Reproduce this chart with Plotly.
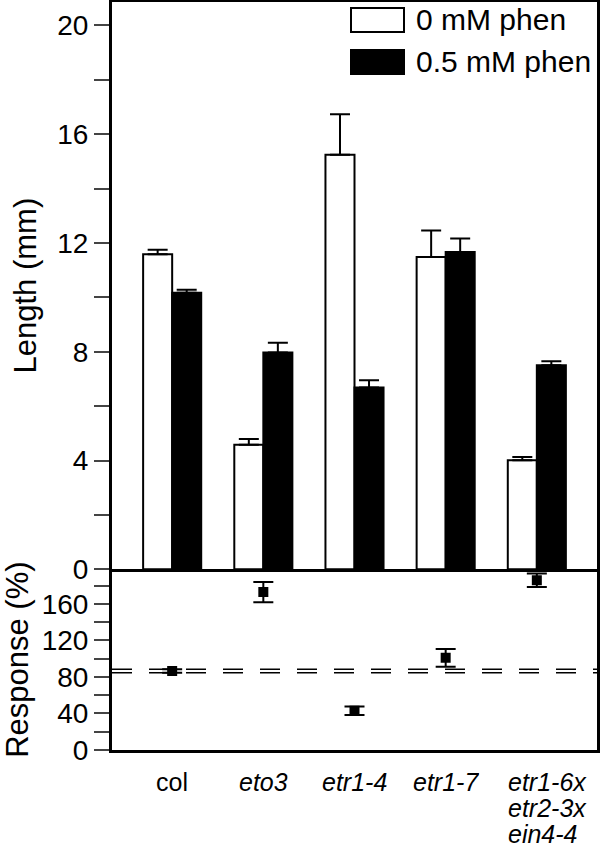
import plotly.graph_objects as go

# Hypocotyl length (mm) with/without phenanthroline, plus response (%)
genotypes = ["col", "eto3", "etr1-4", "etr1-7", "etr1-6x etr2-3x ein4-4"]
label_lines = [["col"], ["eto3"], ["etr1-4"], ["etr1-7"], ["etr1-6x", "etr2-3x", "ein4-4"]]
label_italic = [False, True, True, True, True]

len_0mM = [11.58, 4.58, 15.24, 11.48, 4.01]
len_0mM_se = [0.17, 0.21, 1.49, 0.98, 0.12]
len_05mM = [10.17, 7.97, 6.68, 11.67, 7.50]
len_05mM_se = [0.11, 0.36, 0.27, 0.49, 0.15]

response = [86.6, 173, 43, 101, 186]
response_se = [1.9, 11.2, 4.6, 9.7, 7.5]

len_ticks = [0, 4, 8, 12, 16, 20]
resp_ticks = [0, 40, 80, 120, 160]

FONT = "Liberation Sans, Arial, sans-serif"
L, R, T, B = 112, 3, 2, 96
W, H = 600, 846
PW, PH = W - L - R, H - T - B
split = 0.2416

def px_x(px):
    return (px - L) / PW

def px_y(py):
    return (H - B - py) / PH

x = list(range(len(genotypes)))

fig = go.Figure()
fig.add_trace(go.Bar(
    x=x, y=len_0mM, name="0 mM phen",
    marker=dict(color="white", line=dict(color="black", width=2)),
    error_y=dict(type="data", symmetric=False, array=len_0mM_se,
                 arrayminus=[0] * len(x), thickness=2, width=10, color="black"),
    xaxis="x", yaxis="y",
))
fig.add_trace(go.Bar(
    x=x, y=len_05mM, name="0.5 mM phen",
    marker=dict(color="black", line=dict(color="black", width=2)),
    error_y=dict(type="data", symmetric=False, array=len_05mM_se,
                 arrayminus=[0] * len(x), thickness=2, width=10, color="black"),
    xaxis="x", yaxis="y",
))
fig.add_trace(go.Scatter(
    x=x, y=response, mode="markers",
    marker=dict(symbol="square", size=10, color="black"),
    error_y=dict(type="data", array=response_se, thickness=2, width=10, color="black"),
    xaxis="x2", yaxis="y2",
))

# col response +/- SE as dashed reference lines
for yv in (response[0] - response_se[0], response[0] + response_se[0]):
    fig.add_shape(type="line", xref="x2 domain", x0=0, x1=1, yref="y2", y0=yv, y1=yv,
                  line=dict(color="black", width=1.5, dash="20px,17px"), layer="below")

# hand-drawn legend (large swatches)
legend_rows = [("0 mM phen", "white", 8, 32), ("0.5 mM phen", "black", 50, 74)]
for text, col, y0, y1 in legend_rows:
    fig.add_shape(type="rect", xref="paper", yref="paper",
                  x0=px_x(351), x1=px_x(404), y0=px_y(y1), y1=px_y(y0),
                  fillcolor=col, line=dict(color="black", width=2))
    fig.add_annotation(xref="paper", yref="paper", x=px_x(414), y=px_y((y0 + y1) / 2),
                       text=text, showarrow=False, xanchor="left", yanchor="middle",
                       font=dict(size=30, color="black", family=FONT))

# x category labels (one annotation per line so the spacing stays tight)
for i, lines in enumerate(label_lines):
    multi = len(lines) > 1
    for j, line in enumerate(lines):
        t = f"<i>{line}</i>" if label_italic[i] else line
        fig.add_annotation(xref="x2", yref="paper", x=i, y=0, text=t, showarrow=False,
                           xanchor="left" if multi else "center", yanchor="top",
                           height=25, borderpad=0,
                           xshift=-30 if multi else 0, yshift=-18 - 26 * j,
                           font=dict(size=25, color="black", family=FONT))

axis_common = dict(showline=True, linecolor="black", showgrid=False,
                   zeroline=False, automargin=False)
fig.update_layout(
    width=W, height=H,
    margin=dict(l=L, r=R, t=T, b=B),
    paper_bgcolor="white", plot_bgcolor="white",
    font=dict(family=FONT, color="black", size=28),
    showlegend=False,
    barmode="group", bargap=0.363, bargroupgap=0,
    xaxis=dict(domain=[0, 1], anchor="y", range=[-0.66, 4.66], showticklabels=False,
               ticks="", linewidth=2.5, mirror=True, **axis_common),
    yaxis=dict(domain=[split, 1], anchor="x", range=[0, 20.86], tickvals=len_ticks,
               ticks="outside", ticklen=15, tickwidth=2, linewidth=3, mirror=True,
               minor=dict(dtick=2, ticks="outside", ticklen=15, tickwidth=2),
               title=dict(text="Length (mm)", standoff=12, font=dict(size=31)),
               tickfont=dict(size=28), **axis_common),
    xaxis2=dict(domain=[0, 1], anchor="y2", range=[-0.66, 4.66], showticklabels=False,
                ticks="", linewidth=3, mirror=False, **axis_common),
    yaxis2=dict(domain=[0, split], anchor="x2", range=[0, 198], tickvals=resp_ticks,
                ticks="outside", ticklen=15, tickwidth=2, linewidth=3, mirror=True,
                minor=dict(dtick=20, ticks="outside", ticklen=15, tickwidth=2),
                title=dict(text="Response (%)", standoff=26, font=dict(size=31)),
                tickfont=dict(size=28), **axis_common),
)

fig.write_html("out.html", config={"displayModeBar": False},
               post_script="document.body.style.margin='0';")
